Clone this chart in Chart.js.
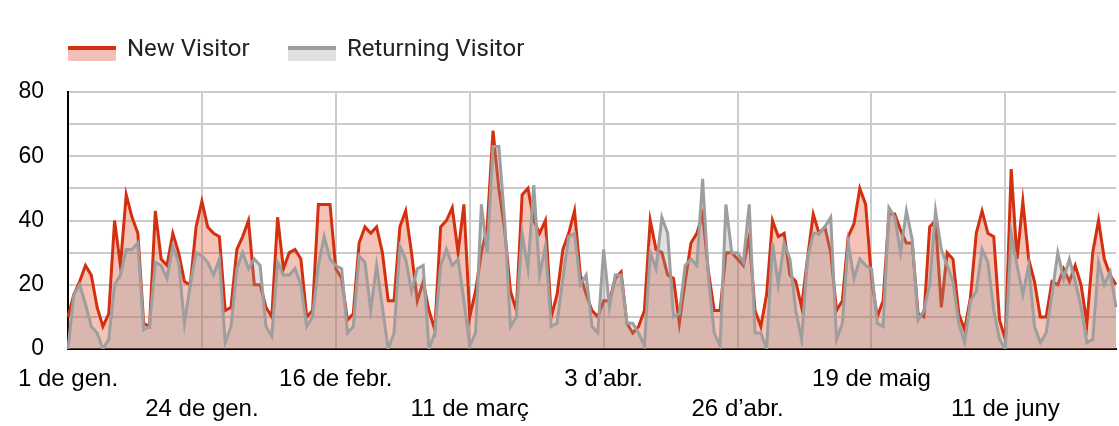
<!DOCTYPE html>
<html>
<head>
<meta charset="utf-8">
<script src="https://cdn.jsdelivr.net/npm/chart.js@4"></script>
<style>
  body { margin: 0; background: #fff; }
  #wrap { position: relative; width: 1119px; height: 426px; }
  .legend { position: absolute; top: 0; left: 0; font: 24px Roboto, sans-serif; color: #222; }
  .item { position: absolute; top: 34px; height: 28px; line-height: 28px; white-space: nowrap; }
  .swatch { position: absolute; top: 12px; width: 48px; height: 11px; box-sizing: content-box; }
  .item span { position: absolute; left: 59px; top: 0; }
</style>
</head>
<body>
<div id="wrap">
  <canvas id="visitors" width="1119" height="426"></canvas>
  <div class="legend" id="legend"></div>
</div>
<script>
/* ================= DATA ================= */

// one value per day, 1 Jan .. 30 Jun
const newVisitor = [
  10, 17, 21, 26, 23, 13, 7, 11, 40, 26, 48, 41, 36, 8, 7, 43, 28, 26, 36, 30, 21, 20, 38,
  46, 38, 36, 35, 12, 13, 31, 35, 40, 20, 20, 13, 10, 41, 25, 30, 31, 28, 10, 12, 45, 45, 45,
  25, 22, 9, 11, 33, 38, 36, 38, 30, 15, 15, 38, 43, 30, 15, 21, 12, 6, 38, 40, 44, 30,
  45, 10, 18, 30, 38, 68, 50, 37, 18, 12, 48, 50, 40, 36, 40, 10, 17, 31, 36, 43, 23, 17, 12,
  10, 15, 15, 22, 24, 8, 5, 7, 12, 40, 31, 30, 23, 22, 8, 21, 33, 36, 42, 24, 12, 12,
  30, 30, 28, 26, 35, 12, 7, 17, 40, 35, 36, 23, 21, 13, 28, 42, 36, 38, 30, 12, 15, 35,
  39, 50, 45, 22, 10, 15, 42, 42, 37, 33, 33, 11, 10, 38, 40, 13, 30, 28, 11, 6, 16, 36, 43,
  36, 35, 9, 3, 56, 28, 46, 28, 21, 10, 10, 21, 20, 25, 21, 26, 20, 8, 30, 40, 28, 23, 20
];

const returningVisitor = [
  0, 17, 20, 14, 7, 5, 0, 3, 20, 23, 31, 31, 33, 6, 7, 27, 26, 22, 32, 27, 8, 20, 30,
  29, 27, 23, 28, 2, 7, 25, 30, 25, 28, 26, 7, 4, 27, 23, 23, 25, 20, 7, 10, 26, 35, 28,
  26, 25, 5, 7, 29, 27, 12, 26, 13, 0, 5, 32, 28, 18, 25, 26, 0, 5, 26, 31, 26, 28,
  15, 1, 5, 45, 30, 63, 63, 40, 7, 10, 36, 25, 51, 23, 32, 7, 8, 22, 35, 36, 20, 23, 7,
  5, 31, 13, 23, 23, 8, 8, 5, 1, 30, 25, 41, 36, 10, 11, 26, 28, 26, 53, 22, 5, 1,
  45, 30, 30, 27, 45, 5, 5, 0, 33, 20, 33, 28, 12, 3, 28, 36, 36, 38, 41, 3, 8, 33,
  22, 28, 26, 25, 8, 7, 44, 41, 30, 43, 34, 9, 12, 20, 43, 31, 26, 21, 8, 2, 15, 18, 31,
  27, 12, 3, 0, 36, 26, 17, 26, 7, 2, 5, 17, 30, 22, 28, 21, 13, 2, 3, 27, 20, 24, 13
];

const tickLabels = [
  "1 de gen.", "24 de gen.", "16 de febr.", "11 de març",
  "3 d’abr.", "26 d’abr.", "19 de maig", "11 de juny"
];
const tickEvery = 23; // days between labelled ticks

const yTicks = [0, 20, 40, 60, 80];

const days = newVisitor.map((_, i) => i);

const seriesStyle = [
  { label: "New Visitor", line: "#d4300f", fill: "rgba(220,57,18,0.3)", legendFill: "#f3c0b7" },
  { label: "Returning Visitor", line: "#9e9e9e", fill: "rgba(153,153,153,0.3)", legendFill: "#e0e0e0" }
];

/* ================= CHART ================= */

const ctx = document.getElementById("visitors").getContext("2d");

new Chart(ctx, {
  type: "line",
  data: {
    labels: days,
    datasets: [
      {
        label: seriesStyle[0].label,
        data: newVisitor,
        borderColor: seriesStyle[0].line,
        backgroundColor: seriesStyle[0].fill,
        fill: "origin",
        borderWidth: 3,
        pointRadius: 0,
        tension: 0,
        order: 1
      },
      {
        label: seriesStyle[1].label,
        data: returningVisitor,
        borderColor: seriesStyle[1].line,
        backgroundColor: seriesStyle[1].fill,
        fill: "origin",
        borderWidth: 3,
        pointRadius: 0,
        tension: 0,
        order: 0
      }
    ]
  },
  options: {
    responsive: false,
    animation: false,
    layout: { padding: { top: 92, right: 3, left: 0, bottom: 0 } },
    plugins: {
      legend: { display: false },
      tooltip: { enabled: false }
    },
    scales: {
      x: {
        grid: {
          color: (c) => (c.index % tickEvery === 0 ? "#cccccc" : "rgba(0,0,0,0)"),
          lineWidth: 2,
          drawTicks: false
        },
        border: { color: "#000", width: 2 },
        ticks: {
          autoSkip: false,
          maxRotation: 0,
          padding: 15,
          color: "#000",
          font: { family: "Arial", size: 24, lineHeight: 1.25 },
          callback: (v, i) => {
            if (i % tickEvery) return "";
            const k = i / tickEvery;
            return k % 2 ? ["", tickLabels[k]] : tickLabels[k];
          }
        },
        afterFit: (s) => {
          s.height = 77;
          s.paddingLeft = 0;
          s.paddingRight = 0;
        }
      },
      y: {
        min: 0,
        max: 80,
        grid: { color: "#cccccc", lineWidth: 2, drawTicks: false },
        border: { color: "#000", width: 2 },
        ticks: {
          stepSize: 10,
          padding: 24,
          color: "#000",
          font: { family: "Arial", size: 23 },
          callback: (v) => (yTicks.includes(v) ? v : "")
        },
        afterFit: (s) => {
          s.width = 68;
          s.paddingTop = 0;
          s.paddingBottom = 0;
        }
      }
    }
  }
});

/* ================= LEGEND ================= */

const legend = document.getElementById("legend");
const legendX = [68, 288];
seriesStyle.forEach((s, i) => {
  const item = document.createElement("div");
  item.className = "item";
  item.style.left = legendX[i] + "px";
  item.innerHTML =
    '<div class="swatch" style="border-top:4px solid ' + s.line + ";background:" + s.legendFill + '"></div>' +
    "<span>" + s.label + "</span>";
  legend.appendChild(item);
});
</script>
</body>
</html>
